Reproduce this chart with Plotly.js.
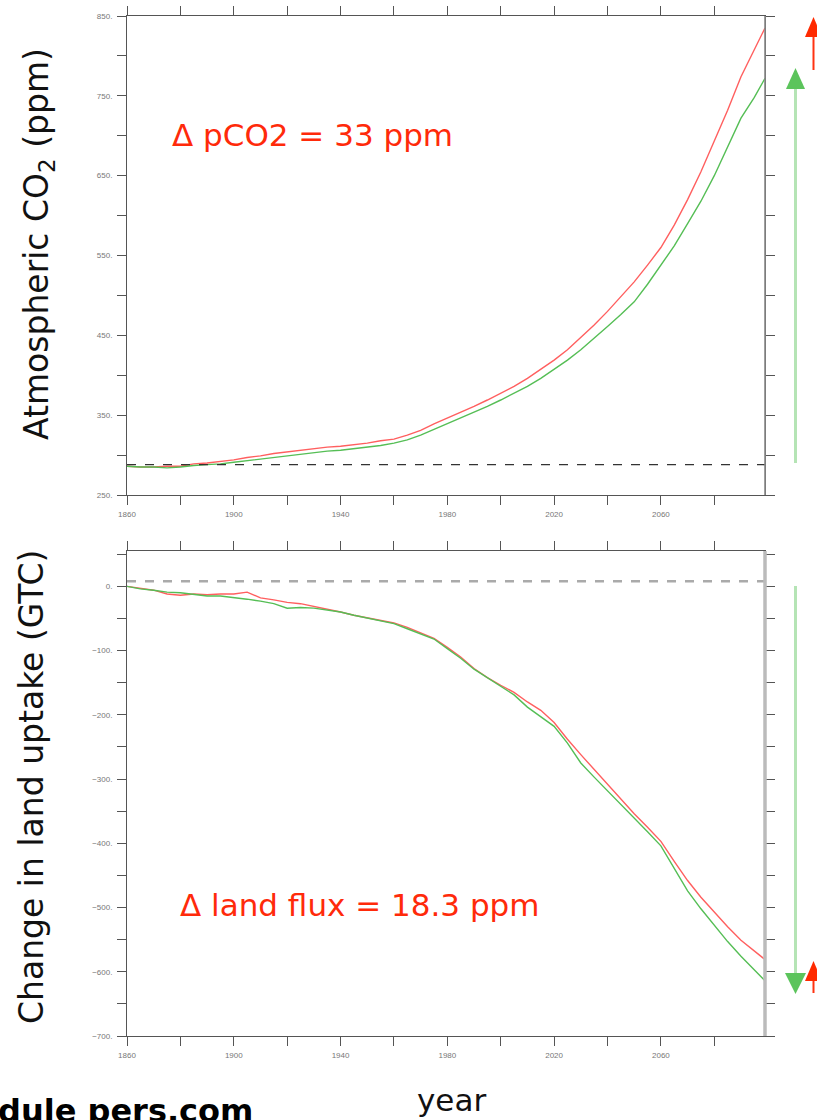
<!DOCTYPE html>
<html>
<head>
<meta charset="utf-8">
<script src="https://cdn.plot.ly/plotly-3.0.1.min.js"></script>
<style>html,body{margin:0;padding:0;background:#fff}#chart{width:817px;height:1120px}</style>
</head>
<body>
<div id="chart"></div>
<script>
// ---------- data ----------
const years = [1860,1865,1870,1875,1880,1885,1890,1895,1900,1905,1910,1915,1920,1925,1930,1935,1940,1945,1950,1955,1960,1965,1970,1975,1980,1985,1990,1995,2000,2005,2010,2015,2020,2025,2030,2035,2040,2045,2050,2055,2060,2065,2070,2075,2080,2085,2090,2095,2099];

const co2Red   = [286,285,285,286,286,289,290,292,294,297,299,302,304,306,308,310,311,313,315,318,320,325,331,339,346,353,361,369,377,386,396,407,419,432,447,463,480,498,517,538,560,588,620,655,693,732,774,808,835];
const co2Green = [286,285,285,284,285,287,288,289,291,293,295,297,299,301,303,305,306,308,310,312,315,319,325,332,339,346,353,361,369,377,386,396,407,419,432,446,461,476,492,514,538,562,590,618,650,685,722,748,772];

const landRed   = [0,-3,-6,-12,-14,-12,-13,-12,-12,-9,-18,-21,-25,-27,-31,-36,-40,-45,-49,-53,-57,-64,-72,-81,-95,-110,-128,-142,-154,-165,-180,-193,-212,-238,-262,-285,-308,-331,-354,-375,-397,-428,-458,-484,-507,-530,-551,-567,-581];
const landGreen = [0,-4,-6,-9,-10,-13,-15,-15,-17,-20,-23,-27,-34,-33,-34,-37,-40,-45,-49,-54,-58,-66,-74,-82,-97,-112,-129,-142,-155,-169,-188,-203,-218,-244,-275,-297,-318,-340,-361,-382,-404,-440,-474,-502,-528,-553,-576,-597,-614];

const co2Baseline = 288;
const landBaseline = 8;

const xTickVals = [1860,1880,1900,1920,1940,1960,1980,2000,2020,2040,2060,2080];
const xTickText = ['1860',' ','1900',' ','1940',' ','1980',' ','2020',' ','2060',' '];
const co2TickVals = [250,300,350,400,450,500,550,600,650,700,750,800,850];
const co2TickText = ['250.',' ','350.',' ','450.',' ','550.',' ','650.',' ','750.',' ','850.'];
const landTickVals = [-700,-650,-600,-550,-500,-450,-400,-350,-300,-250,-200,-150,-100,-50,0,50];
const landTickText = ['\u2212700.',' ','\u2212600.',' ','\u2212500.',' ','\u2212400.',' ','\u2212300.',' ','\u2212200.',' ','\u2212100.',' ','0.',' '];

const topLabel = '\u0394 pCO2 = 33 ppm';
const botLabel = '\u0394 land flux = 18.3 ppm';

// ---------- layout helpers ----------
const W = 817, H = 1120;
const px = x => x / W;
const py = y => 1 - y / H;

const RED = 'rgb(255,95,95)';
const GREEN = 'rgb(85,190,85)';

const traces = [
  {x: years, y: co2Red, xaxis: 'x', yaxis: 'y', mode: 'lines', line: {color: RED, width: 1.4}},
  {x: years, y: co2Green, xaxis: 'x', yaxis: 'y', mode: 'lines', line: {color: GREEN, width: 1.4}},
  {x: years, y: landRed, xaxis: 'x2', yaxis: 'y2', mode: 'lines', line: {color: RED, width: 1.4}},
  {x: years, y: landGreen, xaxis: 'x2', yaxis: 'y2', mode: 'lines', line: {color: GREEN, width: 1.4}}
];

const tickFont = {family: 'Liberation Sans, Arial, sans-serif', size: 8, color: '#777'};
function xAx(anchor, dom) {
  return {domain: dom, anchor: anchor, range: [1860, 2099], tickmode: 'array', tickvals: xTickVals, ticktext: xTickText,
    ticks: 'outside', ticklen: 9, tickcolor: '#555', tickwidth: 1, showline: true, linecolor: '#555', linewidth: 1,
    mirror: 'ticks', showgrid: false, zeroline: false, tickfont: tickFont, ticklabelstandoff: 2};
}
function yAx(anchor, dom, rng, tv, tt) {
  return {domain: dom, anchor: anchor, range: rng, tickmode: 'array', tickvals: tv, ticktext: tt,
    ticks: 'outside', ticklen: 9, tickcolor: '#555', tickwidth: 1, showline: true, linecolor: '#555', linewidth: 1,
    mirror: 'ticks', showgrid: false, zeroline: false, tickfont: tickFont, ticklabelstandoff: 3};
}

const xDom = [px(127), px(765)];

const shapes = [
  // baselines
  {type: 'line', xref: 'x', yref: 'y', x0: 1860, x1: 2099, y0: co2Baseline, y1: co2Baseline, line: {color: '#333', width: 1.3, dash: 'dash'}},
  {type: 'line', xref: 'x2', yref: 'y2', x0: 1860, x1: 2099, y0: landBaseline, y1: landBaseline, line: {color: '#aaa', width: 2.5, dash: 'dash'}},
  // right edges
  {type: 'line', xref: 'paper', yref: 'paper', x0: px(765), x1: px(765), y0: py(495), y1: py(16), line: {color: '#888', width: 1.6}},
  {type: 'line', xref: 'paper', yref: 'paper', x0: px(765), x1: px(765), y0: py(1036), y1: py(551), line: {color: '#bbb', width: 3.5}},
  // top green arrow
  {type: 'line', xref: 'paper', yref: 'paper', x0: px(795.5), x1: px(795.5), y0: py(463), y1: py(88), line: {color: 'rgba(120,205,120,0.55)', width: 3}},
  {type: 'path', xref: 'paper', yref: 'paper', path: `M ${px(786)} ${py(89)} L ${px(805)} ${py(89)} L ${px(795.5)} ${py(68)} Z`, fillcolor: '#5cc45c', line: {width: 0}},
  // top red arrow
  {type: 'line', xref: 'paper', yref: 'paper', x0: px(813.5), x1: px(813.5), y0: py(70), y1: py(36), line: {color: '#ff3311', width: 2}},
  {type: 'path', xref: 'paper', yref: 'paper', path: `M ${px(805)} ${py(37)} L ${px(822)} ${py(37)} L ${px(813.5)} ${py(17)} Z`, fillcolor: '#ff2a00', line: {width: 0}},
  // bottom green arrow (down)
  {type: 'line', xref: 'paper', yref: 'paper', x0: px(795.5), x1: px(795.5), y0: py(586), y1: py(974), line: {color: 'rgba(120,205,120,0.55)', width: 3}},
  {type: 'path', xref: 'paper', yref: 'paper', path: `M ${px(785)} ${py(973)} L ${px(806)} ${py(973)} L ${px(795.5)} ${py(994)} Z`, fillcolor: '#5cc45c', line: {width: 0}},
  // bottom red arrow (up)
  {type: 'line', xref: 'paper', yref: 'paper', x0: px(813.5), x1: px(813.5), y0: py(993), y1: py(980), line: {color: '#ff3311', width: 2}},
  {type: 'path', xref: 'paper', yref: 'paper', path: `M ${px(805)} ${py(981)} L ${px(822)} ${py(981)} L ${px(813.5)} ${py(961)} Z`, fillcolor: '#ff2a00', line: {width: 0}}
];

const bigFont = 'DejaVu Sans, Liberation Sans, sans-serif';
const annotations = [
  {xref: 'paper', yref: 'paper', x: px(38), y: py(244), text: 'Atmospheric CO<sub>2</sub> (ppm)', textangle: -90, showarrow: false,
   font: {family: bigFont, size: 33, color: '#111'}, xanchor: 'center', yanchor: 'middle'},
  {xref: 'paper', yref: 'paper', x: px(32), y: py(787), text: 'Change in land uptake (GTC)', textangle: -90, showarrow: false,
   font: {family: bigFont, size: 33, color: '#111'}, xanchor: 'center', yanchor: 'middle'},
  {xref: 'paper', yref: 'paper', x: px(170), y: py(135), text: topLabel, showarrow: false,
   font: {family: bigFont, size: 31, color: '#ff2a0a'}, xanchor: 'left', yanchor: 'middle'},
  {xref: 'paper', yref: 'paper', x: px(178), y: py(905), text: botLabel, showarrow: false,
   font: {family: bigFont, size: 31, color: '#ff2a0a'}, xanchor: 'left', yanchor: 'middle'},
  {xref: 'paper', yref: 'paper', x: px(451), y: py(1100), text: 'year', showarrow: false,
   font: {family: bigFont, size: 31, color: '#111'}, xanchor: 'center', yanchor: 'middle'},
  {xref: 'paper', yref: 'paper', x: px(-4), y: py(1111), text: '<b>dule pers.com</b>', showarrow: false,
   font: {family: bigFont, size: 32, color: '#000'}, xanchor: 'left', yanchor: 'middle'}
];

const layout = {
  width: W, height: H,
  margin: {l: 0, r: 0, t: 0, b: 0, pad: 0},
  paper_bgcolor: '#fff', plot_bgcolor: '#fff',
  showlegend: false,
  xaxis: xAx('y', xDom),
  yaxis: yAx('x', [py(495), py(16)], [250, 850], co2TickVals, co2TickText),
  xaxis2: xAx('y2', xDom),
  yaxis2: yAx('x2', [py(1036), py(551)], [-700, 55], landTickVals, landTickText),
  shapes: shapes,
  annotations: annotations
};

Plotly.newPlot('chart', traces, layout, {staticPlot: true, displayModeBar: false});
</script>
</body>
</html>
